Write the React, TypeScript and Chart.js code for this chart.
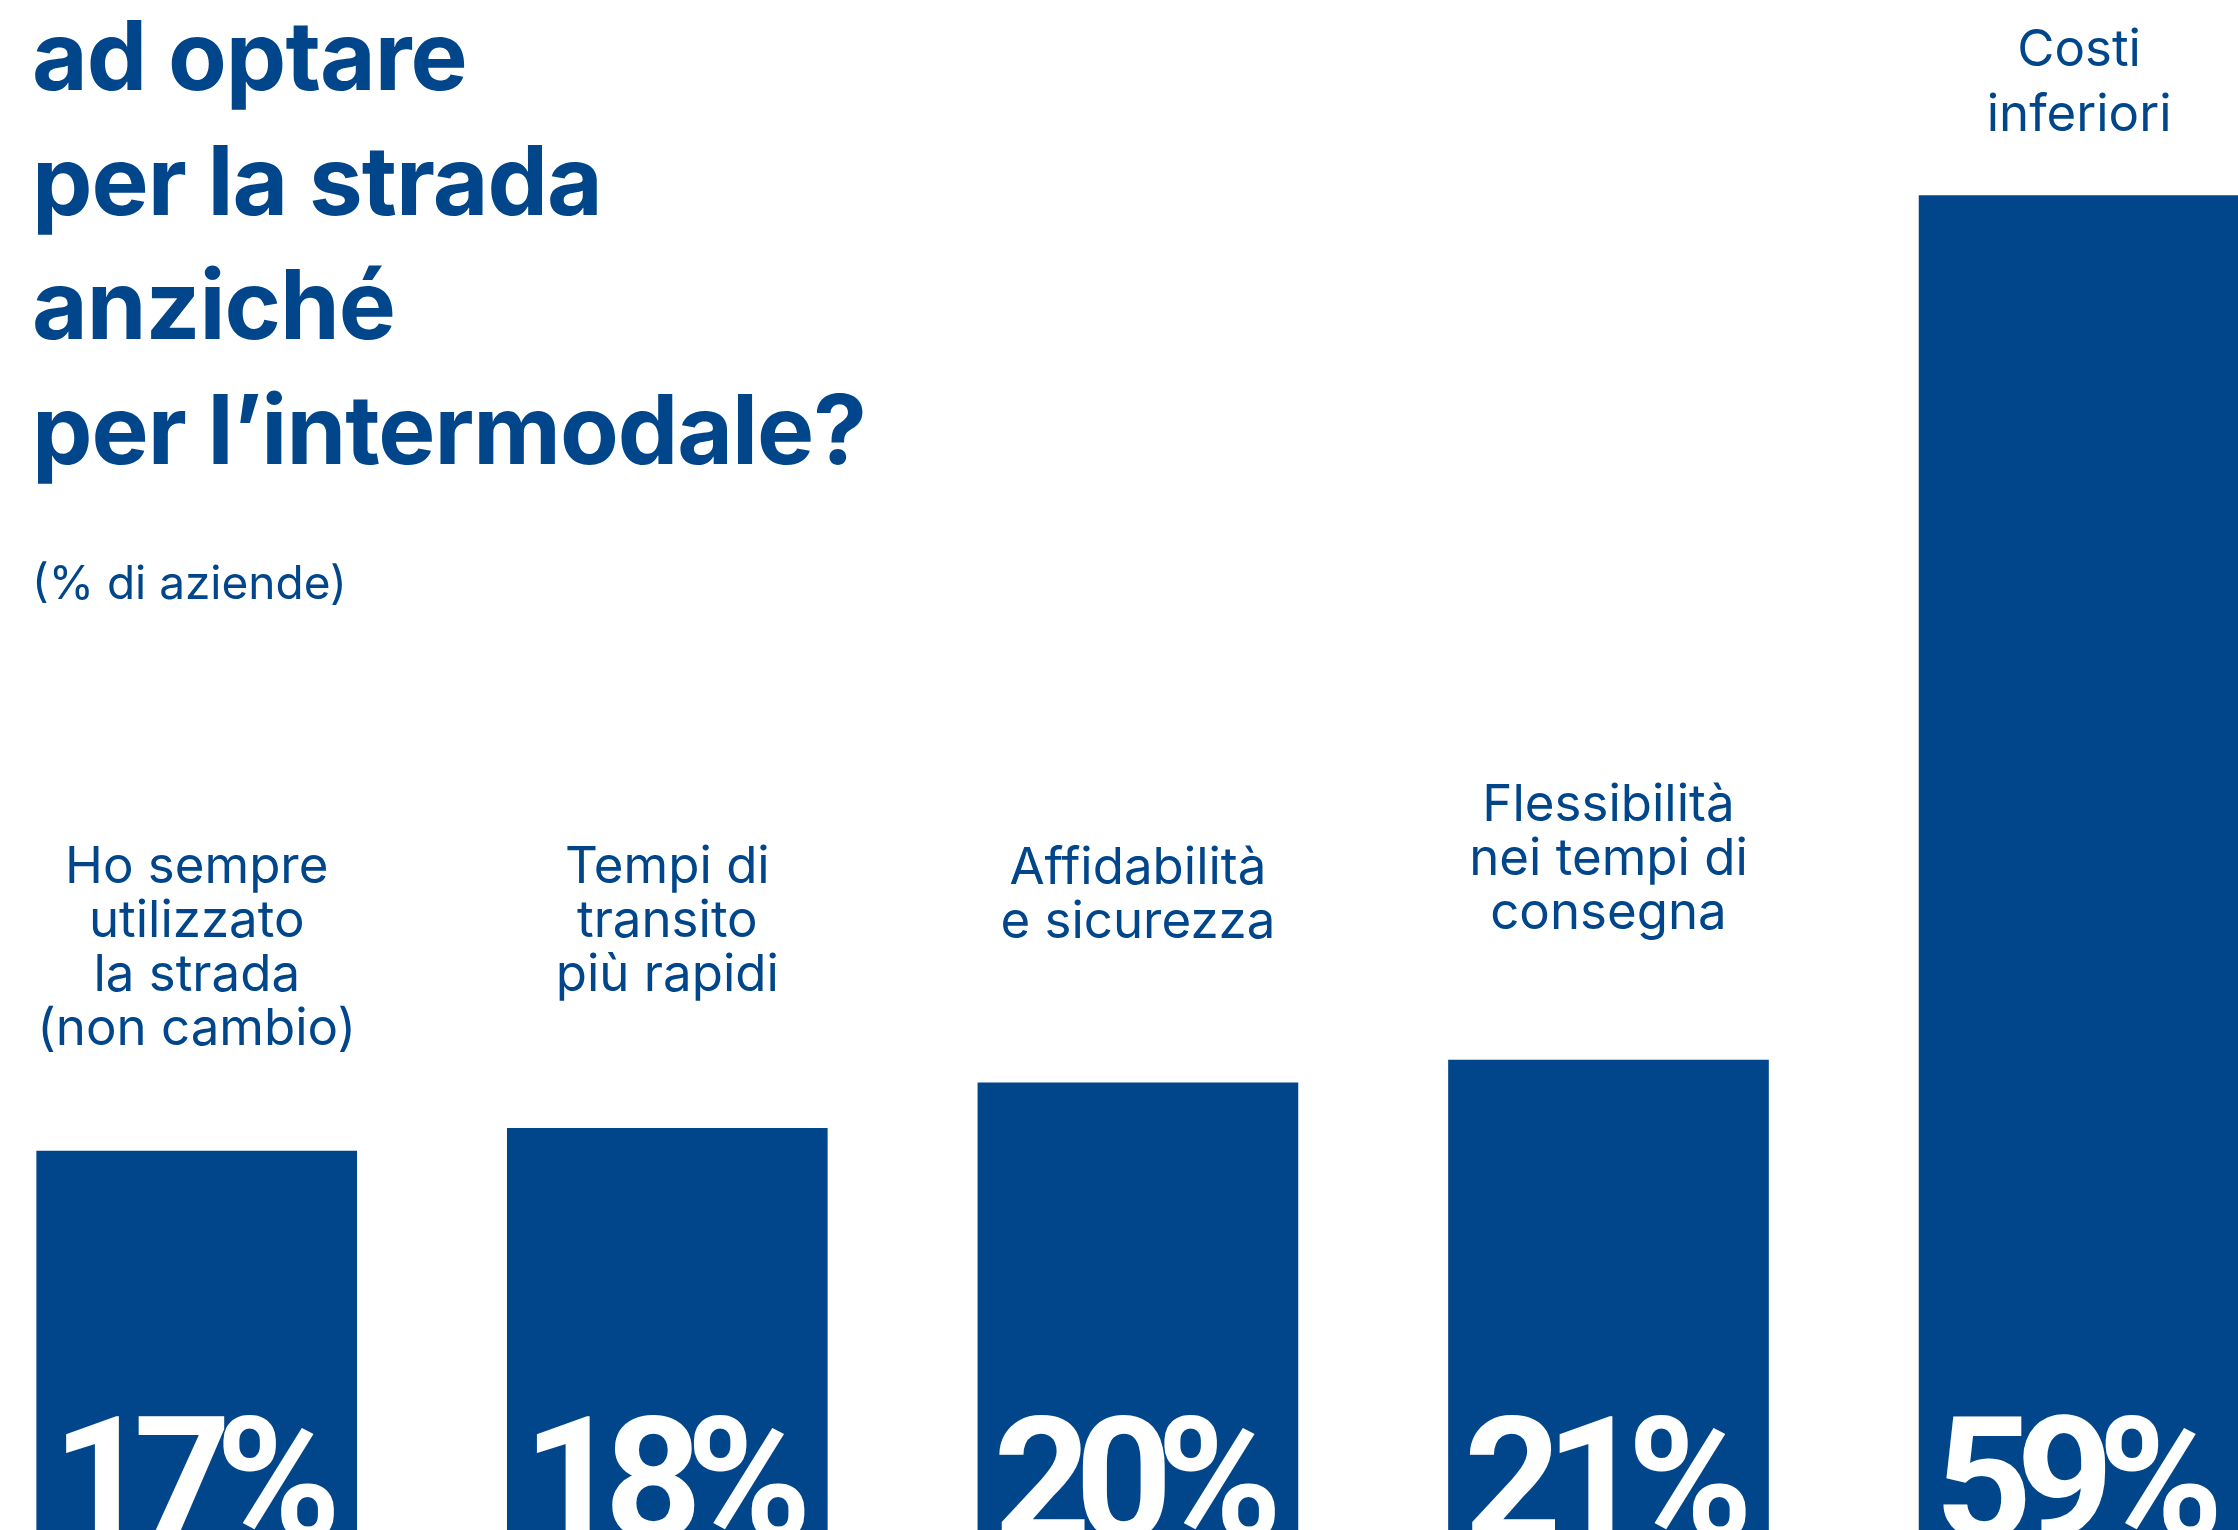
import React, { useEffect, useRef } from "react";
import { Chart, registerables } from "chart.js";

Chart.register(...registerables);

// ---- data ----
const categories: string[][] = [
  ["Ho sempre", "utilizzato", "la strada", "(non cambio)"],
  ["Tempi di", "transito", "più rapidi"],
  ["Affidabilità", "e sicurezza"],
  ["Flessibilità", "nei tempi di", "consegna"],
  ["Costi", "inferiori"],
];
const values: number[] = [17, 18, 20, 21, 59];
const valueLabels: string[] = ["17%", "18%", "20%", "21%", "59%"];
const titleLines: string[] = ["ad optare", "per la strada", "anziché", "per l’intermodale?"];
const subtitle = "(% di aziende)";

// ---- layout / style ----
const W = 2238;
const H = 1530;
const BLUE = "#01468a";
const labelFirstBaseline = [883, 883, 884, 821, 66];
const labelLineHeight = [54, 54, 54, 54, 65];

export default function App() {
  const ref = useRef<HTMLCanvasElement | null>(null);

  useEffect(() => {
    document.body.style.margin = "0";
    document.documentElement.style.margin = "0";
    let chart: Chart | null = null;
    let cancelled = false;

    const textPlugin = {
      id: "texts",
      afterDatasetsDraw(c: any) {
        const ctx = c.ctx as CanvasRenderingContext2D;
        const meta = c.getDatasetMeta(0);
        const yScale = c.scales.y;
        const base = yScale.getPixelForValue(0);
        ctx.save();
        // title
        ctx.fillStyle = BLUE;
        ctx.textAlign = "left";
        ctx.textBaseline = "alphabetic";
        ctx.font = "700 96px Inter";
        (ctx as any).letterSpacing = "-1px";
        titleLines.forEach((t, i) => ctx.fillText(t, 32, 90 + i * 124.5));
        (ctx as any).letterSpacing = "0px";
        ctx.font = "400 46px Inter";
        ctx.fillText(subtitle, 32, 599);

        // category labels
        ctx.textAlign = "center";
        ctx.font = "400 51px Inter";
        meta.data.forEach((bar: any, i: number) => {
          const lines = categories[i];
          lines.forEach((ln, j) => {
            ctx.fillText(ln, bar.x, labelFirstBaseline[i] + j * labelLineHeight[i]);
          });
        });

        // value labels
        ctx.fillStyle = "#ffffff";
        ctx.font = "700 170px Roboto";
        (ctx as any).letterSpacing = "-16px";
        meta.data.forEach((bar: any, i: number) => {
          ctx.fillText(valueLabels[i], bar.x - 8, base);
        });
        ctx.restore();
      },
    };

    const make = () => {
      if (cancelled || !ref.current) return;
      chart = new Chart(ref.current, {
        type: "bar",
        data: {
          datasets: [
            {
              data: values.map((v, i) => ({ x: i, y: v })),
              backgroundColor: BLUE,
              barThickness: 320,
              borderWidth: 0,
            },
          ],
        },
        options: {
          animation: false,
          responsive: false,
          maintainAspectRatio: false,
          layout: { padding: 0 },
          plugins: { legend: { display: false }, tooltip: { enabled: false } },
          scales: {
            x: { type: "linear", offset: false, min: -0.418, max: 4.3377, display: false },
            y: { min: 0.35, max: 67.6, display: false },
          },
        },
        plugins: [textPlugin],
      } as any);
    };

    Promise.all([
      document.fonts.load("700 96px Inter"),
      document.fonts.load("400 50px Inter"),
      document.fonts.load("700 170px Roboto"),
    ])
      .catch(() => null)
      .then(make);

    return () => {
      cancelled = true;
      if (chart) chart.destroy();
    };
  }, []);

  return (
    <div style={{ position: "relative", width: W, height: H, overflow: "hidden", background: "#fff" }}>
      <style>{"html,body{margin:0;padding:0;overflow:hidden;}"}</style>
      <canvas ref={ref} width={W} height={H} style={{ display: "block", width: W, height: H }} />
    </div>
  );
}
